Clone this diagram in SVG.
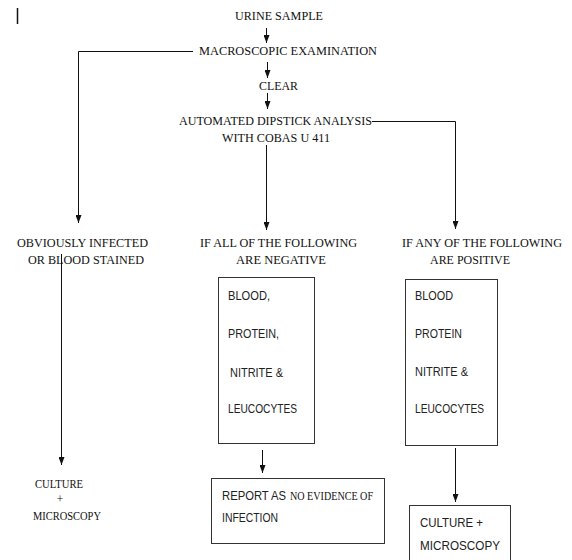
<svg xmlns="http://www.w3.org/2000/svg" width="572" height="560" viewBox="0 0 572 560">
<style>
.t{font-family:"Liberation Serif","Times New Roman",serif;font-size:12.5px;fill:#111}
.s{font-family:"Liberation Sans",Arial,sans-serif;font-size:13px;fill:#222}
.sm{font-family:"Liberation Serif","Times New Roman",serif;font-size:11.5px;fill:#111}
.ln{fill:none;stroke:#111;stroke-width:1}
.box{fill:#fff;stroke:#333;stroke-width:1}
</style>
<defs>
<marker id="ah" viewBox="0 0 8 6" refX="8" refY="3" markerWidth="8" markerHeight="6" markerUnits="userSpaceOnUse" orient="auto">
<path d="M0,0 L8,3 L0,6 z" fill="#111"/>
</marker>
</defs>
<rect width="572" height="560" fill="#fff"/>
<line x1="17.5" y1="8" x2="17.5" y2="24" stroke="#111" stroke-width="1.5"/>
<g id="connectors">
<line class="ln" x1="266.5" y1="28" x2="266.5" y2="43" marker-end="url(#ah)"/>
<line class="ln" x1="267.5" y1="62" x2="267.5" y2="78" marker-end="url(#ah)"/>
<line class="ln" x1="267.5" y1="93" x2="267.5" y2="109" marker-end="url(#ah)"/>
<polyline class="ln" points="193,51.5 78.5,51.5 78.5,223" marker-end="url(#ah)"/>
<polyline class="ln" points="372,121.5 455.5,121.5 455.5,229" marker-end="url(#ah)"/>
<line class="ln" x1="266.5" y1="145" x2="266.5" y2="230" marker-end="url(#ah)"/>
<line class="ln" x1="61.5" y1="254" x2="61.5" y2="465" marker-end="url(#ah)"/>
<line class="ln" x1="262.5" y1="450" x2="262.5" y2="473" marker-end="url(#ah)"/>
<line class="ln" x1="455.5" y1="448" x2="455.5" y2="502" marker-end="url(#ah)"/>
</g>
<g id="urine-sample"><text class="t" x="235" y="20" textLength="88" lengthAdjust="spacingAndGlyphs">URINE SAMPLE</text></g>
<g id="macroscopic"><text class="t" x="199" y="55" textLength="178" lengthAdjust="spacingAndGlyphs">MACROSCOPIC EXAMINATION</text></g>
<g id="clear"><text class="t" x="259" y="90" textLength="39" lengthAdjust="spacingAndGlyphs">CLEAR</text></g>
<g id="dipstick">
<text class="t" x="179" y="125" textLength="193" lengthAdjust="spacingAndGlyphs">AUTOMATED DIPSTICK ANALYSIS</text>
<text class="t" x="222" y="142" textLength="108" lengthAdjust="spacingAndGlyphs">WITH COBAS U 411</text>
</g>
<g id="obviously-infected">
<text class="t" x="17" y="247" textLength="131" lengthAdjust="spacingAndGlyphs">OBVIOUSLY INFECTED</text>
<text class="t" x="28" y="264" textLength="116" lengthAdjust="spacingAndGlyphs">OR BLOOD STAINED</text>
</g>
<g id="all-negative">
<text class="t" x="200" y="247" textLength="157" lengthAdjust="spacingAndGlyphs">IF ALL OF THE FOLLOWING</text>
<text class="t" x="236" y="264" textLength="90" lengthAdjust="spacingAndGlyphs">ARE NEGATIVE</text>
</g>
<g id="any-positive">
<text class="t" x="402" y="247" textLength="160" lengthAdjust="spacingAndGlyphs">IF ANY OF THE FOLLOWING</text>
<text class="t" x="430" y="264" textLength="80" lengthAdjust="spacingAndGlyphs">ARE POSITIVE</text>
</g>
<g id="negative-list">
<rect class="box" x="218.5" y="277.5" width="96" height="166"/>
<text class="s" x="228" y="300" textLength="42" lengthAdjust="spacingAndGlyphs">BLOOD,</text>
<text class="s" x="228" y="338" textLength="51" lengthAdjust="spacingAndGlyphs">PROTEIN,</text>
<text class="s" x="230" y="377" textLength="53" lengthAdjust="spacingAndGlyphs">NITRITE &amp;</text>
<text class="s" x="228" y="413" textLength="69" lengthAdjust="spacingAndGlyphs">LEUCOCYTES</text>
</g>
<g id="positive-list">
<rect class="box" x="405.5" y="279.5" width="92" height="166"/>
<text class="s" x="415" y="300" textLength="38" lengthAdjust="spacingAndGlyphs">BLOOD</text>
<text class="s" x="415" y="338" textLength="47" lengthAdjust="spacingAndGlyphs">PROTEIN</text>
<text class="s" x="415" y="376" textLength="53" lengthAdjust="spacingAndGlyphs">NITRITE &amp;</text>
<text class="s" x="415" y="413" textLength="69" lengthAdjust="spacingAndGlyphs">LEUCOCYTES</text>
</g>
<g id="culture-left">
<text class="sm" x="35" y="488" textLength="48" lengthAdjust="spacingAndGlyphs">CULTURE</text>
<text class="sm" x="60" y="503" text-anchor="middle">+</text>
<text class="sm" x="33" y="520" textLength="68" lengthAdjust="spacingAndGlyphs">MICROSCOPY</text>
</g>
<g id="report-no-infection">
<rect class="box" x="211.5" y="478.5" width="173" height="65"/>
<text y="500"><tspan class="s" x="222" textLength="64" lengthAdjust="spacingAndGlyphs">REPORT AS</tspan><tspan class="t" x="290" textLength="83" lengthAdjust="spacingAndGlyphs">NO EVIDENCE OF</tspan></text>
<text class="s" x="222" y="522" textLength="56" lengthAdjust="spacingAndGlyphs">INFECTION</text>
</g>
<g id="culture-box">
<rect class="box" x="409.5" y="505.5" width="101" height="60"/>
<text class="s" x="420" y="527" textLength="63" lengthAdjust="spacingAndGlyphs">CULTURE +</text>
<text class="s" x="420" y="550" textLength="80" lengthAdjust="spacingAndGlyphs">MICROSCOPY</text>
</g>
</svg>
